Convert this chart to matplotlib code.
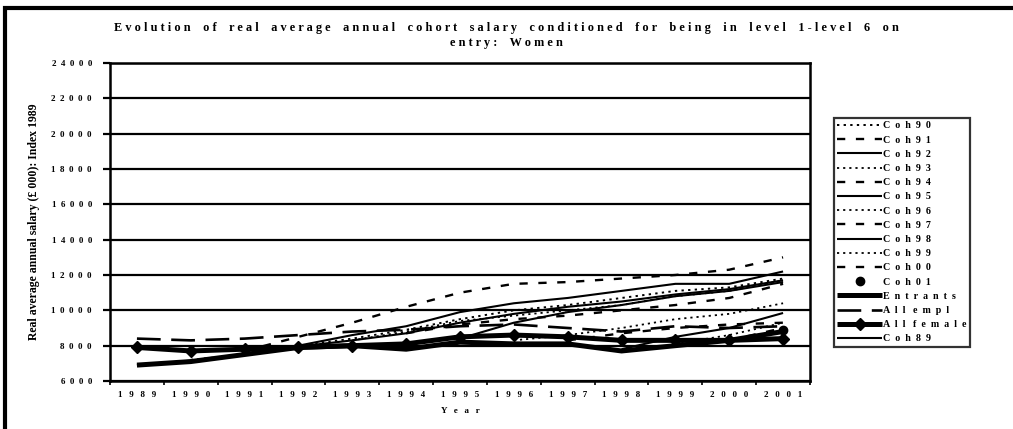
import matplotlib.pyplot as plt
from matplotlib.patches import Rectangle
import numpy as np

# cohort salary series, real £, index 1989
years = ['1989', '1990', '1991', '1992', '1993', '1994', '1995',
         '1996', '1997', '1998', '1999', '2000', '2001']
N = None

coh90 = [N, 7200, 7500, 8000, 8400, 8900, 9500, 10000, 10300, 10700, 11100, 11300, 11800]
coh91 = [N, N, 7700, 8500, 9300, 10200, 11000, 11500, 11600, 11800, 12000, 12300, 13000]
coh92 = [N, N, N, 8000, 8600, 9100, 9900, 10400, 10700, 11100, 11500, 11500, 12200]
coh93 = [N, N, N, N, 8300, 8800, 9400, 9700, 10000, 10300, 10800, 11100, 11700]
coh94 = [N, N, N, N, N, 8700, 9200, 9500, 9700, 10000, 10300, 10700, 11500]
coh95 = [N, N, N, N, N, N, 8400, 9300, 9900, 10300, 10800, 11100, 11600]
coh96 = [N, N, N, N, N, N, N, 8300, 8600, 9000, 9500, 9800, 10400]
coh97 = [N, N, N, N, N, N, N, N, 8300, 8700, 9000, 9200, 9300]
coh98 = [N, N, N, N, N, N, N, N, N, 7800, 8500, 9000, 9850]
coh99 = [N, N, N, N, N, N, N, N, N, N, 8100, 8600, 9300]
coh00 = [N, N, N, N, N, N, N, N, N, N, N, 8300, 9000]
coh01 = [N, N, N, N, N, N, N, N, N, N, N, N, 8900]
entrants = [6900, 7100, 7500, 7900, 8000, 7800, 8200, 8100, 8100, 7700, 8000, 8300, 8800]
all_empl = [8400, 8300, 8400, 8600, 8800, 8900, 9100, 9200, 9000, 8800, 9100, 9000, 9100]
all_female = [7900, 7700, 7800, 7900, 8000, 8100, 8500, 8600, 8500, 8300, 8300, 8300, 8400]
coh89 = [6900, 7150, 7500, 7950, 8300, 8700, 9300, 9800, 10200, 10500, 10900, 11200, 11700]

title = ('Evolution of real average annual cohort salary conditioned for being in level 1-level 6 on\n'
         'entry: Women')


def spaced(s, gap=1, word=3):
    # letter-spaced version of a string, line by line
    lines = []
    for line in s.split('\n'):
        lines.append((' ' * word).join((' ' * gap).join(w) for w in line.split(' ')))
    return '\n'.join(lines)


def arr(v):
    return np.array([np.nan if x is None else x for x in v], dtype=float)


plt.rcParams['font.family'] = ['Liberation Serif', 'DejaVu Serif']
B = 'bold'

fig = plt.figure(figsize=(10.13, 4.29), dpi=100)
ax = fig.add_axes([0.1086, 0.1119, 0.6910, 0.7412])

x = np.arange(len(years))
dot = (0, (1.2, 2.2))
dash = (0, (3.5, 4.5))

series = [
    ('Coh90', coh90, dict(ls=dot, lw=1.4)),
    ('Coh91', coh91, dict(ls=dash, lw=1.7)),
    ('Coh92', coh92, dict(ls='-', lw=1.5)),
    ('Coh93', coh93, dict(ls=dot, lw=1.3)),
    ('Coh94', coh94, dict(ls=dash, lw=1.7)),
    ('Coh95', coh95, dict(ls='-', lw=1.5)),
    ('Coh96', coh96, dict(ls=dot, lw=1.3)),
    ('Coh97', coh97, dict(ls=dash, lw=1.7)),
    ('Coh98', coh98, dict(ls='-', lw=1.5)),
    ('Coh99', coh99, dict(ls=dot, lw=1.3)),
    ('Coh00', coh00, dict(ls=dash, lw=1.7)),
    ('Coh01', coh01, dict(ls='none', marker='o', ms=6)),
    ('Entrants', entrants, dict(ls='-', lw=3.6)),
    ('All empl', all_empl, dict(ls=(0, (9, 4)), lw=1.9)),
    ('All female', all_female, dict(ls='-', lw=3.6, marker='D', ms=6)),
    ('Coh89', coh89, dict(ls='-', lw=1.5)),
]

for name, vals, style in series:
    ax.plot(x, arr(vals), color='black', label=spaced(name, gap=2, word=3),
            solid_capstyle='butt', dash_capstyle='butt', **style)

ax.set_xlim(-0.5, len(years) - 0.5)
ax.set_ylim(6000, 24000)
yt = np.arange(6000, 24001, 2000)
ax.set_yticks(yt)
ax.set_yticklabels([spaced(f'{v:.0f}', gap=2) for v in yt], fontsize=6.5, fontweight=B)
ax.yaxis.grid(True, color='black', lw=1.6)
ax.set_axisbelow(True)

# category axis: labels centred, ticks on the boundaries
ax.set_xticks(x)
ax.set_xticklabels([spaced(y, gap=3) for y in years], fontsize=6.5, fontweight=B)
ax.set_xticks(np.arange(-0.5, len(years), 1), minor=True)
ax.tick_params(axis='x', which='major', length=0, pad=7)
ax.tick_params(axis='x', which='minor', length=3, width=1.2, direction='out')
ax.tick_params(axis='y', length=5, width=1.6, pad=8)

for side in ['left', 'right', 'top', 'bottom']:
    ax.spines[side].set_linewidth(1.8)

ax.set_xlabel(spaced('Year', gap=3), fontsize=6.5, fontweight=B, labelpad=6)
ax.set_ylabel('Real average annual salary (£ 000): Index 1989', fontsize=8.5,
              fontweight=B, labelpad=8)

fig.text(0.5, 0.917, spaced(title, gap=1, word=4), ha='center', va='center',
         fontsize=8.8, fontweight=B, linespacing=1.4)

leg = ax.legend(loc='upper left', bbox_to_anchor=(0.818, 0.7366),
                bbox_transform=fig.transFigure, frameon=True,
                prop=dict(size=7.2, weight=B), fancybox=False, edgecolor='black',
                handlelength=4.5, handletextpad=0.1, labelspacing=0.52,
                borderpad=0.35)
leg.get_frame().set_linewidth(1.6)

# outer chart border
fig.patches.append(Rectangle((5 / 1013, -0.1), 1.2, 1.1 - 8 / 429,
                             transform=fig.transFigure, fill=False,
                             lw=3, edgecolor='black'))

fig.savefig('out.png', dpi=100)
